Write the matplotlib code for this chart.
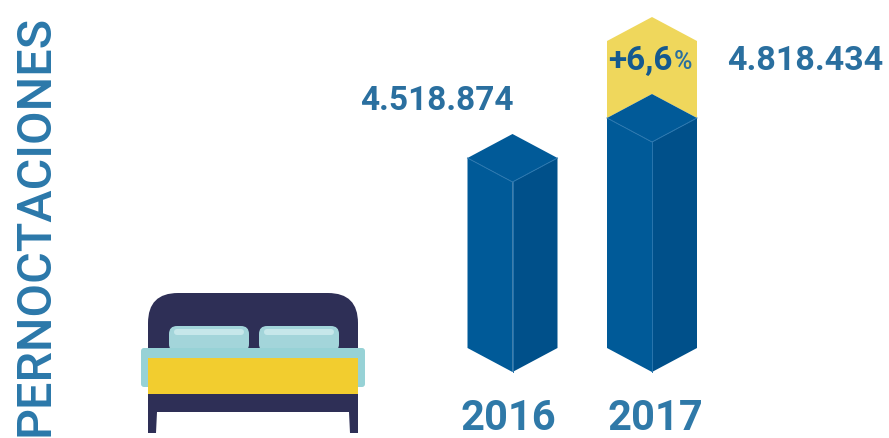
import matplotlib
matplotlib.use("Agg")
import matplotlib.pyplot as plt
from matplotlib.patches import Polygon, Rectangle, FancyBboxPatch

years = ["2016", "2017"]
overnight = [4518874, 4818434]
value_labels = ["4.518.874", "4.818.434"]
cap_top = 5395000
cap_label = "+6,6"
title = "PERNOCTACIONES"

BLUE_LEFT = "#005a98"
BLUE_RIGHT = "#00508a"
BLUE_TOP = "#015a98"
EDGE = "#2a76ae"
YELLOW = "#efd75c"
TEXT = "#2a6f9f"
NAVY = "#2e2f56"
TEAL = "#97d2d6"
PILLOW = "#a3d5da"
PILLOW_HI = "#c6e7ea"
BED_YELLOW = "#f2cd2f"

fig = plt.figure(figsize=(8.89, 4.39), dpi=100)

# value axis, only used as the scale of the bars
ax = fig.add_axes([0, 0, 1, 1])
ax.set_xlim(0, 889)
ax.set_ylim(2242218, 5529889)
ax.axis("off")

# pixel axis on top for shapes and text
px = fig.add_axes([0, 0, 1, 1])
px.set_xlim(0, 889)
px.set_ylim(439, 0)
px.axis("off")
px.patch.set_alpha(0)


def to_px(v):
    p = ax.transData.transform((0, v))
    return px.transData.inverted().transform(p)[1]


def poly(pts, color, z=2):
    px.add_patch(Polygon(pts, closed=True, facecolor=color, edgecolor="none", zorder=z))


centers = [512.5, 652]
hw = 45
for c, v in zip(centers, overnight):
    top = to_px(v)
    poly([(c - hw, top + 24), (c, top + 48), (c, 373), (c - hw, 349)], BLUE_LEFT)
    poly([(c, top + 48), (c + hw, top + 24), (c + hw, 349), (c, 373)], BLUE_RIGHT)
    poly([(c, top), (c + hw, top + 24), (c, top + 48), (c - hw, top + 24)], BLUE_TOP)
    px.plot([c - hw, c, c + hw], [top + 24, top + 48, top + 24], color=EDGE, lw=0.7, zorder=3)
    px.plot([c, c], [top + 48, 373], color=EDGE, lw=0.7, zorder=3)

# yellow cap behind 2017 bar
ctop = to_px(cap_top)
c = centers[1]
blue_top = to_px(overnight[1])
poly([(c, ctop), (c + hw, ctop + 24), (c + hw, blue_top + 24), (c, blue_top),
      (c - hw, blue_top + 24), (c - hw, ctop + 24)], YELLOW, z=1)

# bed
px.add_patch(FancyBboxPatch((148, 294), 210, 110, boxstyle="round,pad=0,rounding_size=30",
                            facecolor=NAVY, edgecolor="none", zorder=2))
poly([(148, 395), (358, 395), (358, 434), (350, 434), (349, 413), (157, 413), (156, 434), (148, 434)], NAVY)
px.add_patch(Rectangle((148, 380), 210, 24, facecolor=NAVY, edgecolor="none", zorder=2))
for x0 in [169, 259]:
    px.add_patch(FancyBboxPatch((x0, 327), 80, 26, boxstyle="round,pad=0,rounding_size=8",
                                facecolor=PILLOW, edgecolor="none", zorder=3))
    px.add_patch(FancyBboxPatch((x0 + 5, 330), 70, 6, boxstyle="round,pad=0,rounding_size=3",
                                facecolor=PILLOW_HI, edgecolor="none", zorder=4))
px.add_patch(FancyBboxPatch((141, 349), 224, 39, boxstyle="round,pad=0,rounding_size=3",
                            facecolor=TEAL, edgecolor="none", zorder=5))
px.add_patch(Rectangle((148, 359), 210, 36, facecolor=BED_YELLOW, edgecolor="none", zorder=6))

# text
font = "Roboto"
px.text(36, 225, title, rotation=90, ha="center", va="center", color="#2b78aa",
        fontsize=35, weight=500, family=font, zorder=7)
px.text(436.5, 101.5, value_labels[0], ha="center", va="center", color=TEXT,
        fontsize=24, weight="bold", family=font, zorder=7)
px.text(805, 60.5, value_labels[1], ha="center", va="center", color=TEXT,
        fontsize=24.5, weight="bold", family=font, zorder=7)
px.text(508, 419, years[0], ha="center", va="center", color="#2f79a8",
        fontsize=30, weight="bold", family=font, zorder=7)
px.text(655, 419, years[1], ha="center", va="center", color="#2f79a8",
        fontsize=30, weight="bold", family=font, zorder=7)
px.text(640, 61, cap_label, ha="center", va="center", color="#14598f",
        fontsize=24, weight="bold", family=font, zorder=7)
px.text(683, 62, "%", ha="center", va="center", color="#2a6f9f",
        fontsize=18, weight=500, family=font, zorder=7)

fig.savefig("out.png", dpi=100)
